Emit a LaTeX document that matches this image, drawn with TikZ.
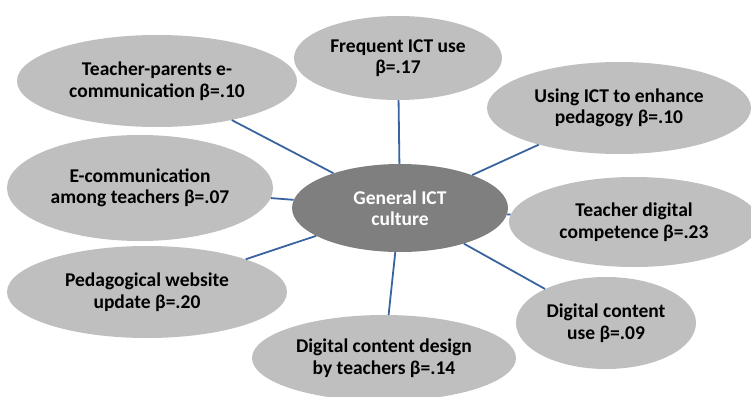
\documentclass[tikz,border=0pt]{standalone}
\usepackage{fontspec}
\setmainfont{Carlito}
\usetikzlibrary{shapes.geometric}
\definecolor{outerfill}{RGB}{191,191,191}
\definecolor{centerfill}{RGB}{127,127,127}
\definecolor{linkblue}{RGB}{58,100,160}
\tikzset{
  bubble/.style={ellipse, fill=outerfill, draw=none, inner sep=0pt, align=center,
    font=\fontsize{19.5}{21.5}\selectfont\bfseries, text=black},
  hub/.style={bubble, fill=centerfill, text=white},
  link/.style={draw=linkblue, line width=1.8pt}
}
\begin{document}
\begin{tikzpicture}[x=1pt,y=-1pt]
\useasboundingbox (0,0) rectangle (751,396);
\node[bubble, minimum width=208pt, minimum height=84pt] (freq) at (398,58) {Frequent ICT use\\ β=.17};
\node[bubble, minimum width=280pt, minimum height=92pt] (tp) at (157,81) {Teacher-parents e-\\ communication β=.10};
\node[bubble, minimum width=264pt, minimum height=92pt] (using) at (619,108) {Using ICT to enhance\\ pedagogy β=.10};
\node[bubble, minimum width=266pt, minimum height=106pt] (ecomm) at (140,188) {E-communication\\ among teachers β=.07};
\node[bubble, minimum width=250pt, minimum height=90pt] (tdc) at (634,222) {Teacher digital\\ competence β=.23};
\node[bubble, minimum width=280pt, minimum height=92pt] (ped) at (147,292) {Pedagogical website\\ update β=.20};
\node[bubble, minimum width=264pt, minimum height=86pt] (dcd) at (384,358) {Digital content design\\ by teachers β=.14};
\node[bubble, minimum width=180pt, minimum height=92pt] (dcu) at (606,323) {Digital content\\ use β=.09};
\node[hub, minimum width=216pt, minimum height=88pt] (hub) at (400,208) {General ICT\\ culture};
\foreach \n in {freq,tp,using,ecomm,tdc,ped,dcd,dcu}
  \draw[link] (hub) -- (\n);
\end{tikzpicture}
\end{document}
